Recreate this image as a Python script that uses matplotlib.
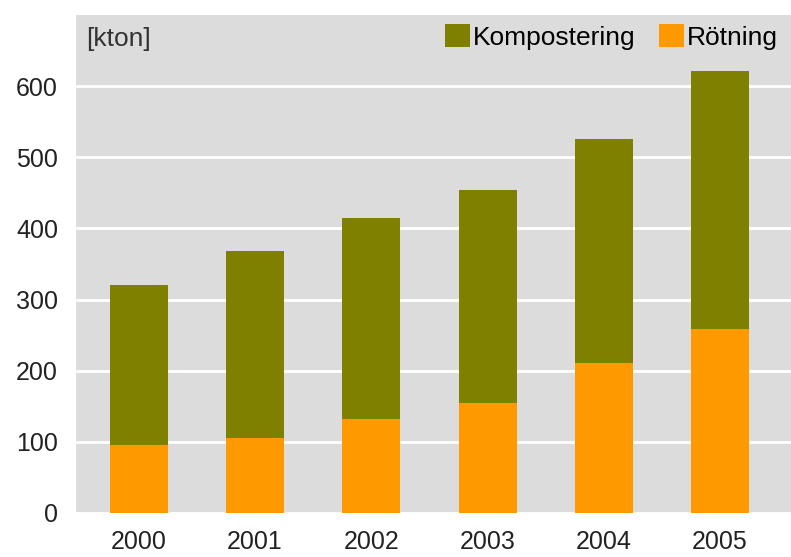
import numpy as np
import matplotlib.pyplot as plt

plt.rcParams['font.family'] = ['Liberation Sans', 'DejaVu Sans']

years = ['2000', '2001', '2002', '2003', '2004', '2005']
rotning = [96, 106, 132, 154, 211, 258]
kompostering = [224, 263, 283, 300, 315, 363]

fig = plt.figure(figsize=(7.91, 5.57), dpi=100)
ax = fig.add_axes([0.0961, 0.079, 0.9039, 0.894])
ax.set_facecolor('#dcdcdc')

x = np.arange(len(years))
ax.bar(x, rotning, width=0.5, color='#ff9900', label='Rötning', zorder=3)
ax.bar(x, kompostering, width=0.5, bottom=rotning, color='#808000', label='Kompostering', zorder=3)

ax.set_xlim(-0.54, 5.61)
ax.set_ylim(0, 700)
ax.set_yticks(np.arange(0, 700, 100))
ax.set_xticks(x)
ax.set_xticklabels(years)
ax.yaxis.grid(True, color='white', linewidth=2, zorder=1)
ax.set_axisbelow(True)
for s in ax.spines.values():
    s.set_visible(False)
ax.tick_params(axis='both', length=0, labelsize=18, colors='#222222')
ax.tick_params(axis='y', pad=13)
ax.tick_params(axis='x', pad=12)

ax.text(0.014, 0.975, '[kton]', transform=ax.transAxes, fontsize=19,
        color='#333333', va='top', ha='left')

handles, labels = ax.get_legend_handles_labels()
ax.legend(handles[::-1], labels[::-1], loc='upper right', ncol=2, frameon=False,
          fontsize=19, handlelength=0.95, handleheight=0.95, handletextpad=0.1,
          columnspacing=0.9, borderaxespad=0.1, bbox_to_anchor=(1.0, 1.008))

fig.savefig('out.png', dpi=100)
